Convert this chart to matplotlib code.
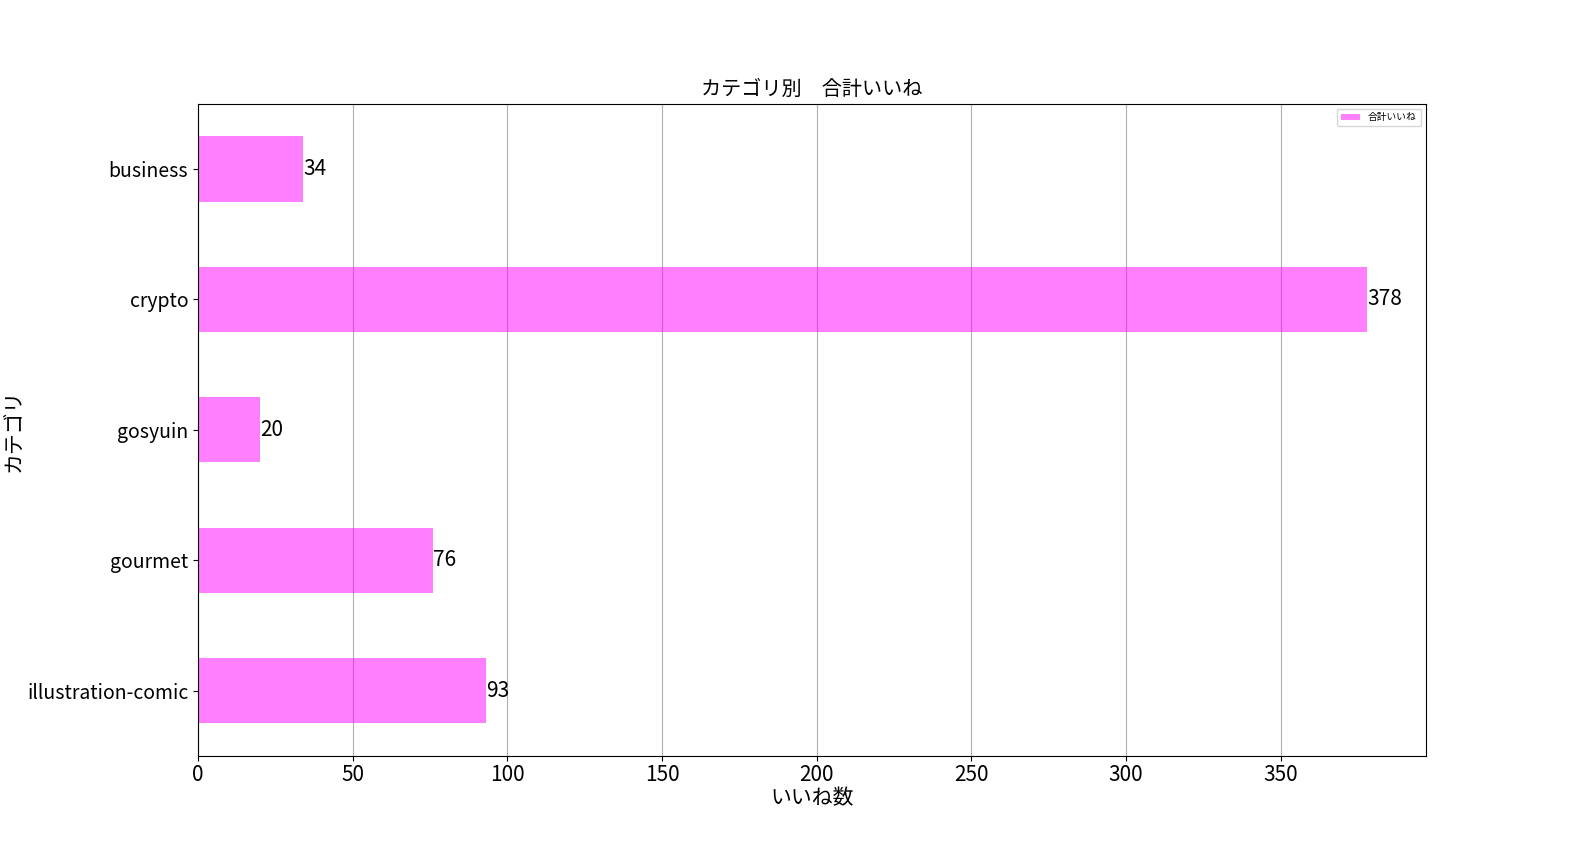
import numpy as np
import matplotlib
matplotlib.use("Agg")
import matplotlib.pyplot as plt

plt.rcParams['font.family'] = ['Noto Sans CJK JP', 'DejaVu Sans']

categories = ['business', 'crypto', 'gosyuin', 'gourmet', 'illustration-comic']
likes = [34, 378, 20, 76, 93]

fig, ax = plt.subplots(figsize=(15.84, 8.64), dpi=100)
fig.subplots_adjust(left=0.125, right=0.9, bottom=0.125, top=0.88)

y = np.arange(len(categories))
ax.barh(y, likes, height=0.5, color='magenta', alpha=0.5, label='合計いいね')
for yi, v in zip(y, likes):
    ax.text(v, yi, str(v), ha='left', va='center', fontsize=15)

ax.set_yticks(y)
ax.set_yticklabels(categories)
ax.set_ylim(4.5, -0.5)
ax.set_xlim(0, max(likes) * 1.05)
ax.tick_params(axis='x', labelsize=15, pad=2)
ax.tick_params(axis='y', labelsize=14)
ax.grid(axis='x')
ax.set_axisbelow(True)

ax.set_title('カテゴリ別\u3000合計いいね', fontsize=14.5)
ax.set_xlabel('いいね数', fontsize=15, labelpad=1)
ax.set_ylabel('カテゴリ', fontsize=15, labelpad=2)
ax.legend(loc='upper right', fontsize=7)

fig.savefig('out.png')
